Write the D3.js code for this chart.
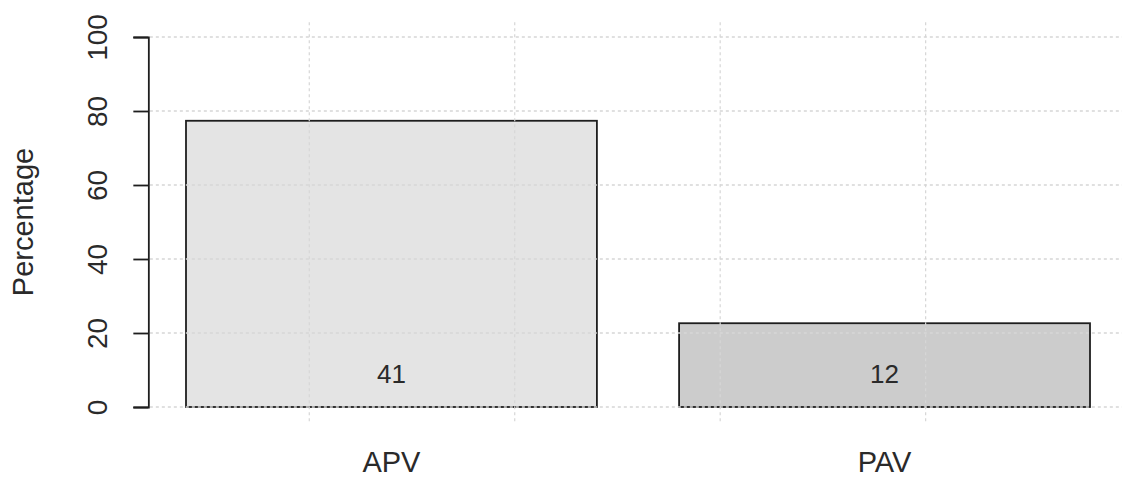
<!DOCTYPE html>
<html>
<head>
<meta charset="utf-8">
<script src="https://cdn.jsdelivr.net/npm/d3@7"></script>
<style>
  html, body { margin: 0; padding: 0; background: #fff; }
  svg { display: block; }
  text { font-family: "Liberation Sans", Arial, sans-serif; fill: #2a2a2a; }
</style>
</head>
<body>
<div id="chart"></div>
<script>
// Group labels, counts shown on the bars, and the percentage axis ticks
const categories = ["APV", "PAV"];
const counts = [41, 12];
const barFills = ["#e4e4e4", "#cccccc"];
const yTicks = [0, 20, 40, 60, 80, 100];
const xGridTicks = [0.5, 1.0, 1.5, 2.0];
const yTitle = "Percentage";

const total = d3.sum(counts);
const percents = counts.map(c => c / total * 100);

const W = 1122, H = 479;
const svg = d3.select("#chart").append("svg").attr("width", W).attr("height", H);

// Bar positions in barplot units: width 1, spacing 0.2
const barLeft = categories.map((_, i) => 0.2 + i * 1.2);
const xMin = 0.2, xMax = 0.2 + categories.length * 1.2 - 0.2;
const xPad = (xMax - xMin) * 0.04;

const x = d3.scaleLinear().domain([xMin, xMax]).range([186, 1090]);
const y = d3.scaleLinear().domain([0, 100]).range([407, 37]);

const plotL = x(xMin - xPad), plotR = x(xMax + xPad);
const plotT = y(104), plotB = y(-4);
const ink = "#1e1e1e";

// Bars
svg.append("g").selectAll("rect")
  .data(percents)
  .join("rect")
  .attr("x", (d, i) => x(barLeft[i]))
  .attr("width", (d, i) => x(barLeft[i] + 1) - x(barLeft[i]))
  .attr("y", d => y(d))
  .attr("height", d => y(0) - y(d))
  .attr("fill", (d, i) => barFills[i])
  .attr("stroke", ink)
  .attr("stroke-width", 1.8);

// Dotted grid drawn over the bars
const grid = svg.append("g")
  .attr("stroke", "#d6d6d6")
  .attr("stroke-width", 1.3)
  .attr("stroke-dasharray", "3,3");
grid.selectAll("line.h")
  .data(yTicks)
  .join("line")
  .attr("class", "h")
  .attr("x1", plotL).attr("x2", plotR)
  .attr("y1", d => y(d)).attr("y2", d => y(d));
grid.selectAll("line.v")
  .data(xGridTicks)
  .join("line")
  .attr("class", "v")
  .attr("stroke-width", 1.2)
  .attr("x1", d => x(d)).attr("x2", d => x(d))
  .attr("y1", plotT).attr("y2", plotB);

// Count labels inside bars
svg.append("g").selectAll("text")
  .data(counts)
  .join("text")
  .attr("x", (d, i) => x(barLeft[i] + 0.5))
  .attr("y", y(0) - 24)
  .attr("text-anchor", "middle")
  .attr("font-size", 26)
  .text(d => d);

// Category labels
svg.append("g").selectAll("text")
  .data(categories)
  .join("text")
  .attr("x", (d, i) => x(barLeft[i] + 0.5))
  .attr("y", 472)
  .attr("text-anchor", "middle")
  .attr("font-size", 29)
  .text(d => d);

// Y axis
const yAxis = d3.axisLeft(y).tickValues(yTicks).tickSize(15).tickPadding(0).tickFormat(d3.format("d"));
const gy = svg.append("g").attr("transform", `translate(${plotL - 1.5},0)`).call(yAxis);
gy.select(".domain").attr("stroke", ink).attr("stroke-width", 1.8);
gy.selectAll(".tick line").attr("stroke", ink).attr("stroke-width", 1.8);
gy.selectAll(".tick text")
  .attr("font-size", 28)
  .attr("font-family", "Liberation Sans, Arial, sans-serif")
  .attr("fill", "#2a2a2a")
  .attr("x", null).attr("dy", null).attr("y", null)
  .attr("text-anchor", "middle")
  .attr("transform", `translate(${107 - (plotL - 1.5)},0) rotate(-90)`);

// Y axis title
svg.append("text")
  .attr("transform", `translate(33,${(plotT + plotB) / 2}) rotate(-90)`)
  .attr("text-anchor", "middle")
  .attr("font-size", 29)
  .text(yTitle);
</script>
</body>
</html>
